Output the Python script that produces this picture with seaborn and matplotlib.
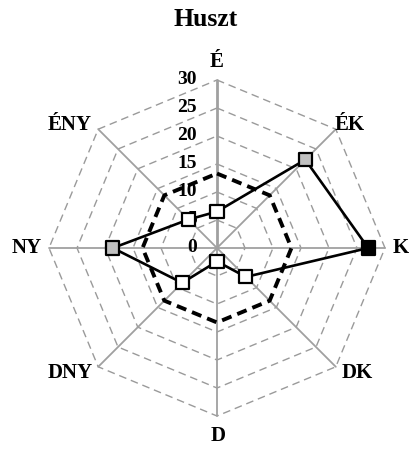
import numpy as np
import matplotlib
matplotlib.use("Agg")
import matplotlib.pyplot as plt
import seaborn as sns

# ---- data ----
title = "Huszt"
directions = ["É", "ÉK", "K", "DK", "D", "DNY", "NY", "ÉNY"]
values = [6.5, 22.3, 27.0, 7.3, 2.4, 8.8, 18.6, 7.2]
avg_values = [13.3, 13.3, 13.3, 13.3, 13.3, 13.3, 13.3, 13.3]
marker_fill = ["white", "gray", "black", "white", "white", "white", "gray", "white"]
r_ticks = [0, 5, 10, 15, 20, 25, 30]

sns.set_theme(style="white")
plt.rcParams["font.family"] = ["Liberation Serif", "DejaVu Serif"]
plt.rcParams["font.weight"] = "bold"

W, H = 410, 449
fig = plt.figure(figsize=(W / 100, H / 100), dpi=100)
cx, cy, R = 217, 248, 168
ax = fig.add_axes([(cx - R) / W, (H - cy - R) / H, 2 * R / W, 2 * R / H],
                  projection="polar")
ax.set_theta_zero_location("N")
ax.set_theta_direction(-1)
ax.set_ylim(0, 30)
ax.grid(False)
ax.set_xticks([])
ax.set_yticks([])
ax.spines["polar"].set_visible(False)
ax.set_facecolor("white")

n = len(directions)
theta = np.arange(n) * 2 * np.pi / n
theta_c = np.append(theta, 2 * np.pi)

# octagonal grid
for lv in r_ticks[1:]:
    ax.plot(theta_c, [lv] * (n + 1), color="#9a9a9a", lw=1.0,
            ls=(0, (5.5, 3.5)), zorder=1, clip_on=False)
# spokes
for i, t in enumerate(theta):
    ax.plot([t, t], [0, 30], color="#a0a0a0", lw=2.0 if i == 0 else 1.3,
            zorder=2, clip_on=False)

# radial tick labels
for v in r_ticks:
    ax.annotate(str(v), xy=(0, v), xytext=(-14.5, 0), textcoords="offset points",
                ha="right", va="center", fontsize=14, fontweight="bold",
                color="black", zorder=3)

# average dashed octagon
sns.lineplot(x=theta_c, y=np.append(avg_values, avg_values[0]), sort=False,
             ax=ax, color="black", lw=2.8, zorder=4, clip_on=False)
ax.lines[-1].set_linestyle((0, (2.6, 1.6)))

# data polygon
sns.lineplot(x=theta_c, y=np.append(values, values[0]), sort=False,
             ax=ax, color="black", lw=1.9, zorder=5, clip_on=False)

pal = {"white": "white", "gray": "#c0c0c0", "black": "black"}
sns.scatterplot(x=theta, y=values, hue=marker_fill, palette=pal, marker="s",
                s=90, edgecolor="black", linewidth=1.6, legend=False, ax=ax,
                zorder=6, clip_on=False)
ax.set_xlabel("")
ax.set_ylabel("")
ax.set_ylim(0, 30)

# direction labels
label_pos = [(217, 62), (350, 125), (401, 248), (357, 373),
             (218, 436), (70, 373), (27, 248), (70, 125)]
for lab, (px, py) in zip(directions, label_pos):
    fig.text(px / W, 1 - py / H, lab, ha="center", va="center",
             fontsize=15, fontweight="bold", color="black")

fig.text(206 / W, 1 - 20 / H, title, ha="center", va="center",
         fontsize=18.5, fontweight="bold", color="black")

fig.savefig("out.png", dpi=100, facecolor="white")
